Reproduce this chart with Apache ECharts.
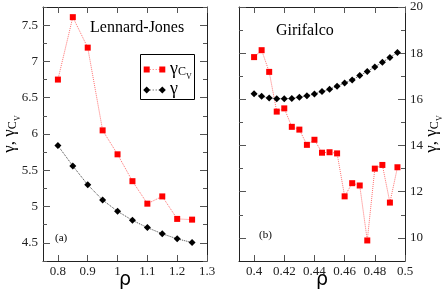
<!DOCTYPE html>
<html>
<head>
<meta charset="utf-8">
<script src="https://cdn.jsdelivr.net/npm/echarts@6/dist/echarts.min.js"></script>
<style>
html,body{margin:0;padding:0;background:#fff;}
#c{width:447px;height:293px;}
</style>
</head>
<body>
<div id="c"></div>
<script>
// ---- data ----
var ljRho = [0.8, 0.85, 0.9, 0.95, 1.0, 1.05, 1.1, 1.15, 1.2, 1.25];
var ljGammaCv = [6.75, 7.61, 7.19, 6.05, 5.72, 5.35, 5.04, 5.14, 4.83, 4.82];
var ljGamma = [5.84, 5.56, 5.30, 5.09, 4.935, 4.81, 4.71, 4.625, 4.555, 4.505];

var gfRho = [0.4, 0.405, 0.41, 0.415, 0.42, 0.425, 0.43, 0.435, 0.44, 0.445,
             0.45, 0.455, 0.46, 0.465, 0.47, 0.475, 0.48, 0.485, 0.49, 0.495];
var gfGammaCv = [17.83, 18.13, 17.19, 15.47, 15.61, 14.81, 14.69, 14.03, 14.25, 13.69,
                 13.71, 13.66, 11.80, 12.37, 12.27, 9.89, 13.00, 13.16, 11.53, 13.06];
var gfGamma = [16.24, 16.13, 16.06, 16.03, 16.03, 16.04, 16.09, 16.16, 16.23, 16.34,
               16.44, 16.57, 16.71, 16.84, 17.03, 17.21, 17.40, 17.61, 17.81, 18.03];

var ljXTicks = [0.8, 0.9, 1.0, 1.1, 1.2, 1.3];
var ljYTicks = [4.5, 5, 5.5, 6, 6.5, 7, 7.5];
var ljYMinor = [4.25, 4.75, 5.25, 5.75, 6.25, 6.75, 7.25, 7.75];
var gfXTicks = [0.4, 0.42, 0.44, 0.46, 0.48, 0.5];
var gfYTicks = [10, 12, 14, 16, 18, 20];
var gfYMinor = [11, 13, 15, 17, 19];

function pairs(xs, ys) { return xs.map(function (x, i) { return [x, ys[i]]; }); }

var FONT = 'Liberation Serif';
var AX = '#222';
var yTitle = '{g|γ, γ}{c|C}{v|V}';
var yTitleRich = {
  g: {fontSize: 17, lineHeight: 24, verticalAlign: 'middle', fontFamily: FONT, color: '#000'},
  c: {fontSize: 12, lineHeight: 12, verticalAlign: 'bottom', padding: [0, 0, 3, 0], fontFamily: FONT, color: '#000'},
  v: {fontSize: 8, lineHeight: 8, verticalAlign: 'bottom', fontFamily: FONT, color: '#000'}
};

function xAx(grid, min, max, ticks, pos, showLabel, name) {
  return {
    type: 'value', gridIndex: grid, position: pos, min: min, max: max,
    axisLine: {show: true, onZero: false, lineStyle: {color: AX, width: 1}},
    axisTick: {show: true, inside: true, length: 6, customValues: ticks, lineStyle: {color: '#555'}},
    axisLabel: {show: showLabel, customValues: ticks, margin: 4, fontSize: 13, fontFamily: FONT, color: '#222',
      formatter: function (v) { return String(+v.toFixed(3)); }},
    splitLine: {show: false},
    name: name || '', nameLocation: 'middle', nameGap: 10, nameMoveOverlap: false,
    nameTextStyle: {fontSize: 19, color: '#000', fontFamily: 'DejaVu Sans'}
  };
}
function yAx(grid, min, max, ticks, pos, showLabel, len, showLine, name, nameGap) {
  return {
    type: 'value', gridIndex: grid, position: pos, min: min, max: max,
    axisLine: {show: showLine, onZero: false, lineStyle: {color: AX, width: 1}},
    axisTick: {show: true, inside: true, length: len, customValues: ticks, lineStyle: {color: '#555'}},
    axisLabel: {show: showLabel, customValues: ticks, margin: 5, fontSize: 13, fontFamily: FONT, color: '#222',
      formatter: function (v) { return String(+v.toFixed(3)); }},
    splitLine: {show: false},
    name: name || '', nameLocation: 'middle', nameGap: nameGap || 0, nameRotate: 90, nameMoveOverlap: false,
    nameTextStyle: {rich: yTitleRich}
  };
}

var chart = echarts.init(document.getElementById('c'), null, {renderer: 'canvas'});
var option = {
  animation: false,
  backgroundColor: '#fff',
  grid: [
    {left: 43, top: 7, width: 164, height: 254, containLabel: false, outerBoundsMode: 'none'},
    {left: 239, top: 7, width: 166, height: 254, containLabel: false, outerBoundsMode: 'none'}
  ],
  xAxis: [
    xAx(0, 0.75, 1.3, ljXTicks, 'bottom', true, 'ρ'),
    xAx(0, 0.75, 1.3, ljXTicks, 'top', false),
    xAx(1, 0.39, 0.5, gfXTicks, 'bottom', true, 'ρ'),
    xAx(1, 0.39, 0.5, gfXTicks, 'top', false)
  ],
  yAxis: [
    yAx(0, 4.25, 7.75, ljYTicks, 'left', true, 7, true, yTitle, 21),
    yAx(0, 4.25, 7.75, ljYTicks, 'right', false, 7, true),
    yAx(0, 4.25, 7.75, ljYMinor, 'left', false, 4, false),
    yAx(0, 4.25, 7.75, ljYMinor, 'right', false, 4, false),
    yAx(1, 9, 20, gfYTicks, 'right', true, 7, true, yTitle, 15),
    yAx(1, 9, 20, gfYTicks, 'left', false, 7, true),
    yAx(1, 9, 20, gfYMinor, 'right', false, 4, false),
    yAx(1, 9, 20, gfYMinor, 'left', false, 4, false)
  ],
  series: [
    {type: 'line', xAxisIndex: 0, yAxisIndex: 0, data: pairs(ljRho, ljGamma),
      symbol: 'diamond', symbolSize: 7, itemStyle: {color: '#000'},
      lineStyle: {color: '#444', width: 1, type: 'dotted'}},
    {type: 'line', xAxisIndex: 0, yAxisIndex: 0, data: pairs(ljRho, ljGammaCv),
      symbol: 'rect', symbolSize: 6, itemStyle: {color: '#ff0000'},
      lineStyle: {color: '#ff7070', width: 1, type: 'dotted'}},
    {type: 'line', xAxisIndex: 2, yAxisIndex: 4, data: pairs(gfRho, gfGammaCv),
      symbol: 'rect', symbolSize: 6, itemStyle: {color: '#ff0000'},
      lineStyle: {color: '#ff7070', width: 1, type: 'dotted'}},
    {type: 'line', xAxisIndex: 2, yAxisIndex: 4, data: pairs(gfRho, gfGamma),
      symbol: 'diamond', symbolSize: 7, itemStyle: {color: '#000'},
      lineStyle: {color: '#444', width: 1, type: 'dotted'}}
  ],
  graphic: [
    {type: 'text', left: 90, top: 20, style: {text: 'Lennard-Jones', font: '16px ' + FONT, fill: '#000'}},
    {type: 'text', left: 276, top: 23, style: {text: 'Girifalco', font: '16px ' + FONT, fill: '#000'}},
    {type: 'text', left: 55, top: 233, style: {text: '(a)', font: '11px ' + FONT, fill: '#000'}},
    {type: 'text', left: 259, top: 230, style: {text: '(b)', font: '11px ' + FONT, fill: '#000'}},
    {type: 'rect', shape: {x: 140.5, y: 54.5, width: 54, height: 45}, style: {fill: '#fff', stroke: '#000', lineWidth: 1}, z: 10},
    {type: 'line', shape: {x1: 146.7, y1: 69.5, x2: 162.3, y2: 69.5}, style: {stroke: '#ff7070', lineWidth: 1, lineDash: [1, 2]}, z: 11},
    {type: 'rect', shape: {x: 143.7, y: 66.5, width: 6, height: 6}, style: {fill: '#ff0000'}, z: 12},
    {type: 'rect', shape: {x: 159.3, y: 66.5, width: 6, height: 6}, style: {fill: '#ff0000'}, z: 12},
    {type: 'line', shape: {x1: 146.7, y1: 90, x2: 162.3, y2: 90}, style: {stroke: '#444', lineWidth: 1, lineDash: [1, 2]}, z: 11},
    {type: 'polygon', shape: {points: [[146.7, 86.5], [150.2, 90], [146.7, 93.5], [143.2, 90]]}, style: {fill: '#000'}, z: 12},
    {type: 'polygon', shape: {points: [[162.3, 86.5], [165.8, 90], [162.3, 93.5], [158.8, 90]]}, style: {fill: '#000'}, z: 12},
    {type: 'text', x: 170, y: 69, z: 12, style: {
      text: '{g|γ}{c|C}{v|V}', verticalAlign: 'middle',
      rich: {
        g: {fontSize: 18, lineHeight: 24, verticalAlign: 'middle', fontFamily: FONT, fill: '#000'},
        c: {fontSize: 12, lineHeight: 12, verticalAlign: 'bottom', padding: [0, 0, 3, 0], fontFamily: FONT, fill: '#000'},
        v: {fontSize: 8, lineHeight: 8, verticalAlign: 'bottom', fontFamily: FONT, fill: '#000'}
      }}},
    {type: 'text', x: 170, y: 89, z: 12, style: {text: 'γ', font: '18px ' + FONT, fill: '#000', verticalAlign: 'middle'}}
  ]
};
chart.setOption(option);
</script>
</body>
</html>
